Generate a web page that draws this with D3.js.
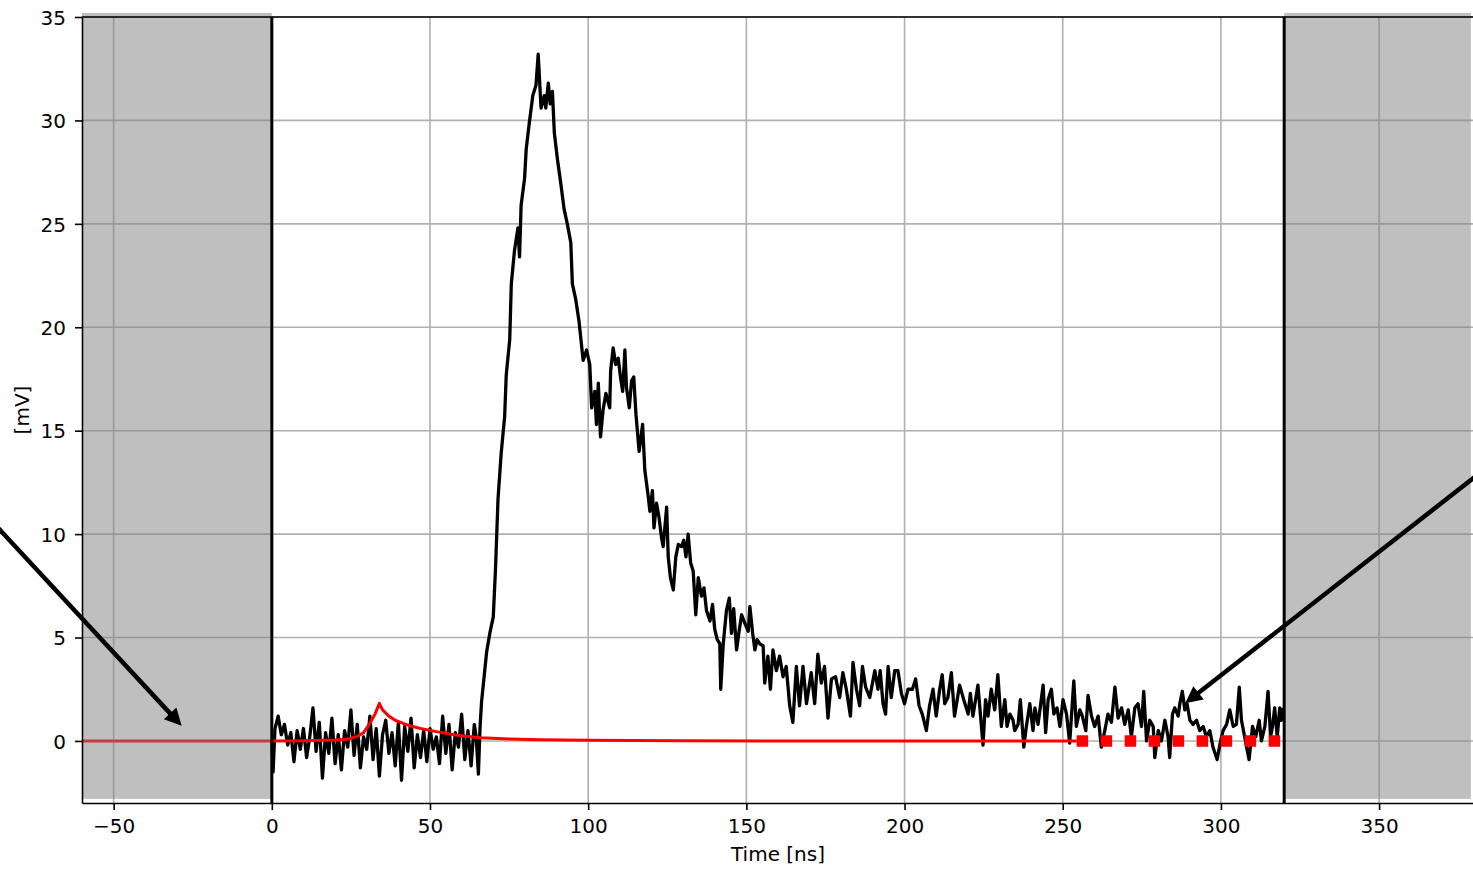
<!DOCTYPE html>
<html><head><meta charset="utf-8">
<script src="https://cdn.jsdelivr.net/npm/d3@7"></script>
<style>
body{margin:0;background:#fff;}
svg{display:block;}
text{font-family:"DejaVu Sans",sans-serif;}
</style>
</head><body>
<svg id="chart" width="1473" height="872"></svg>
<script>
// ---- data ----
const xTicks = [-50, 0, 50, 100, 150, 200, 250, 300, 350];
const yTicks = [0, 5, 10, 15, 20, 25, 30, 35];
const xLabel = "Time [ns]";
const yLabel = "[mV]";

// measured waveform (time in ns, amplitude in mV)
const waveT = [0,0.4,1,2,3,4,5,6,7,8,9,10,11,12,13,14,15,16,17,18,19,20,21,22,23,24,25,26,27,28,29,30,31,32,33,34,35,36,37,38,39,40,41,42,43,44,45,46,47,48,49,50,51,52,53,54,55,56,57,58,59,60,61,62,63,64,64.6,65.3,65.8,66.3,67.1,67.9,68.9,70,70.7,71.5,72.5,73.6,74.1,75.2,75.7,76.7,77.8,78.3,78.8,79.9,80.4,81.4,82.5,83.5,84.2,85.1,86.1,86.6,87.4,88.0,88.7,89.3,90.3,91.3,92.4,93.4,94.5,95.0,96.0,97.1,98.4,99.5,100.5,101.1,102.1,102.6,103.2,103.9,104.7,105.6,106.8,107.1,107.9,108.7,109.5,110.2,110.9,111.6,112.1,113.0,113.7,114.4,115.1,116.1,117.2,117.9,119.0,119.5,120.3,120.8,121.6,122.4,123.2,123.7,124.8,125.3,126.0,126.9,127.7,128.5,129.5,130.2,130.9,131.6,132.4,133.2,134.0,134.8,135.8,136.6,137.4,138.5,139.3,140.0,140.8,141.6,141.9,142.7,143.7,144.6,145.3,146.0,146.9,147.7,148.5,149.5,150.6,151.1,152.0,152.7,153.4,154.2,155.3,155.8,156.8,157.6,158.4,159.5,160.5,161.6,162.6,163.7,164.7,165.8,166.8,167.9,169.0,170.5,171.6,172.6,173.7,174.7,175.8,176.9,178.2,179.5,180.5,181.6,182.9,183.7,184.8,185.8,186.7,187.7,189.0,190.6,191.6,192.3,193.2,194.0,194.8,195.8,196.9,197.9,199.0,200.0,201.1,202.5,203.5,204.6,205.6,206.9,207.9,209.0,210.0,211.1,211.9,212.7,213.7,214.8,215.8,217.4,218.7,220.1,220.8,221.6,223.2,224.8,225.6,226.4,227.4,228.5,229.5,230.6,231.7,232.4,233.3,234.3,234.8,235.9,236.6,237.7,238.5,239.6,240.6,241.2,242.2,243.3,243.8,244.6,245.4,246.4,247.2,248.2,249.1,250.1,251.2,252.2,253.5,254.3,255.4,256.2,257.3,258.0,259.1,260.1,261.2,262.2,263.3,264.3,265.4,266.5,267.5,268.6,269.6,270.7,271.7,272.8,273.8,274.9,275.6,276.5,277.5,278.6,279.1,280.2,281.2,282.3,283.3,283.8,284.7,285.4,286.5,287.0,287.8,288.6,289.3,290.2,291.2,292.3,293.3,294.4,295.4,296.5,297.5,298.8,299.9,300.7,301.8,302.8,303.9,304.9,305.8,306.5,307.5,308.9,310.0,311.0,312.1,312.8,313.9,314.9,315.7,316.3,317.0,317.8,318.6,319.1,319.7];
const waveV = [0.0,-1.5,0.6,1.2,0.3,0.8,-0.2,0.4,-1.0,0.5,-0.4,0.6,-0.8,0.2,1.6,-0.5,0.9,-1.8,0.4,-0.6,1.1,-1.1,0.3,-1.4,0.5,-0.3,1.5,-0.7,0.8,-1.3,0.2,-0.4,1.2,-0.9,0.6,-1.7,0.3,1.0,-0.6,0.4,-1.2,0.9,-1.9,0.7,-0.5,1.1,-1.3,0.3,-0.8,0.5,-1.0,0.6,-0.4,0.2,-1.1,1.2,-0.6,0.8,-1.4,0.4,-0.3,1.3,-0.9,0.5,-1.2,0.8,0.2,-1.6,0.6,1.9,3.1,4.3,5.2,6.0,8.3,11.7,13.9,15.7,17.7,19.4,22.1,23.7,24.8,23.4,25.9,27.2,28.6,29.9,31.2,31.7,33.2,30.6,31.2,30.6,31.8,30.8,31.4,29.4,28.1,27.0,25.7,25.0,24.1,22.1,21.4,20.3,18.4,18.9,18.2,16.1,16.9,15.3,17.3,14.7,16.0,16.8,16.1,17.9,19.0,18.2,18.5,17.6,16.9,18.9,17.1,16.1,17.4,17.6,15.8,14.0,15.3,13.1,11.8,11.1,12.1,10.3,11.5,10.8,9.8,9.4,11.3,8.9,7.9,7.3,8.9,9.5,9.4,9.7,8.9,10.0,8.6,8.2,6.1,7.9,7.0,7.4,6.3,5.8,6.6,5.4,4.9,4.7,2.5,4.7,6.3,6.9,5.2,6.4,4.4,5.3,6.1,5.7,5.3,6.5,5.2,4.4,4.9,4.7,4.6,2.8,4.1,2.5,4.4,3.4,4.1,3.1,3.6,1.7,0.9,3.6,1.7,3.6,1.8,3.3,1.8,4.2,2.8,3.6,1.1,3.0,3.1,2.1,3.3,2.5,1.2,3.8,2.5,1.7,3.6,2.6,2.1,3.4,2.5,3.4,1.8,1.3,3.6,2.1,3.4,3.4,2.3,1.8,2.5,2.5,3.0,1.7,1.3,0.5,1.7,2.5,1.2,2.5,3.2,1.8,2.1,3.3,1.2,2.7,2.0,1.3,2.3,1.2,2.7,-0.2,2.0,1.2,2.5,1.5,3.2,0.7,2.0,0.7,1.3,1.0,0.5,0.8,2.0,-0.3,0.7,1.8,0.5,1.6,0.8,2.1,2.7,0.4,2.0,2.5,1.3,1.6,0.7,2.0,1.3,-0.1,2.9,0.7,1.5,1.2,0.5,2.2,1.2,0.7,1.2,-0.3,0.5,1.3,0.9,2.6,1.1,1.6,0.8,1.5,0.2,1.6,1.8,0.7,2.4,0.0,1.0,0.7,-0.8,0.5,0.0,1.0,0.2,-0.8,1.3,1.6,1.2,1.8,2.4,1.5,1.8,1.0,0.8,1.0,0.5,0.7,0.2,0.5,-0.3,-0.9,0.0,0.5,0.8,1.5,0.7,0.8,2.6,1.0,0.2,-0.9,0.7,0.2,1.0,0.0,0.7,2.4,0.2,0.7,1.6,0.2,1.6,1.0,1.6];

// fitted model (red)
const modelT = [-60,0,10,20,24,27,29,31,32.5,34,35,37,39,41.5,44,47,52,58,66,75,85,100,130,160,254.4];
const modelV = [0,0,0.01,0.04,0.08,0.22,0.4,0.85,1.25,1.82,1.5,1.2,1.0,0.85,0.72,0.6,0.45,0.29,0.16,0.1,0.06,0.03,0.01,0,0];
// dotted extension of the model
const modelDotT = [254.4, 320];
const modelDotV = [0, 0];

// excluded (shaded) windows and window limits
const spanX0 = [-60, 320];
const spanX1 = [0, 379];
const spanY = [-2.8, 35.2];
const windowLines = [0, 320];

// annotation arrows (data coords): tail -> tip
const arrowTailX = [-101.7, 404.0];
const arrowTailY = [12.8, 15.6];
const arrowTipX = [-28.5, 288.7];
const arrowTipY = [0.73, 1.82];

// ---- drawing ----
const svg = d3.select("#chart");
const x = d3.scaleLinear().domain([-60, 380]).range([82, 1474]);
const y = d3.scaleLinear().domain([-3, 35]).range([803, 17]);
const [L, R] = x.range();
const [B, T] = y.range();

// grid
const grid = svg.append("g");
grid.selectAll("line.v").data(xTicks).join("line")
  .attr("x1", d => x(d)).attr("x2", d => x(d)).attr("y1", T).attr("y2", B)
  .attr("stroke", "#b0b0b0").attr("stroke-width", 1.6);
grid.selectAll("line.h").data(yTicks).join("line")
  .attr("x1", L).attr("x2", R).attr("y1", d => y(d)).attr("y2", d => y(d))
  .attr("stroke", "#b0b0b0").attr("stroke-width", 1.6);

// waveform
const wave = waveT.map((t, i) => [t, waveV[i]]);
const line = d3.line().x(d => x(d[0])).y(d => y(d[1]));
svg.append("path").datum(wave).attr("d", line)
  .attr("fill", "none").attr("stroke", "#000").attr("stroke-width", 3.3)
  .attr("stroke-linejoin", "round");

// model
svg.append("path").datum(modelT.map((t, i) => [t, modelV[i]])).attr("d", line)
  .attr("fill", "none").attr("stroke", "#ff0000").attr("stroke-width", 3)
  .attr("stroke-linejoin", "round");
svg.append("path").datum(modelDotT.map((t, i) => [t, modelDotV[i]])).attr("d", line)
  .attr("fill", "none").attr("stroke", "#ff0000").attr("stroke-width", 11.5)
  .attr("stroke-dasharray", "11.5,12.5");

// shaded spans
svg.append("g").selectAll("rect").data(spanX0).join("rect")
  .attr("x", (d) => x(d))
  .attr("width", (d, i) => x(spanX1[i]) - x(d))
  .attr("y", y(spanY[1]))
  .attr("height", y(spanY[0]) - y(spanY[1]))
  .attr("fill", "#808080").attr("fill-opacity", 0.5);

// window lines
svg.append("g").selectAll("line").data(windowLines).join("line")
  .attr("x1", d => x(d)).attr("x2", d => x(d)).attr("y1", T).attr("y2", B)
  .attr("stroke", "#000").attr("stroke-width", 3);

// axes
const fmt = d => d < 0 ? "\u2212" + Math.abs(d) : String(d);
const gx = svg.append("g").attr("transform", `translate(0,${B})`)
  .call(d3.axisBottom(x).tickValues(xTicks).tickSize(7).tickSizeOuter(0).tickPadding(9).tickFormat(fmt));
const gy = svg.append("g").attr("transform", `translate(${L},0)`)
  .call(d3.axisLeft(y).tickValues(yTicks).tickSize(7).tickSizeOuter(0).tickPadding(9).tickFormat(fmt));
[gx, gy].forEach(g => {
  g.selectAll("text").attr("font-size", 20).attr("fill", "#000").attr("font-family", "DejaVu Sans, sans-serif");
  g.selectAll("line").attr("stroke", "#000").attr("stroke-width", 1.6);
  g.select(".domain").attr("stroke", "#000").attr("stroke-width", 1.6);
});
gy.selectAll("text").attr("dy", "0.36em");
// top spine
svg.append("line").attr("x1", L).attr("x2", R).attr("y1", T).attr("y2", T)
  .attr("stroke", "#000").attr("stroke-width", 1.6);

// axis labels
svg.append("text").attr("x", (L + R) / 2).attr("y", 861)
  .attr("text-anchor", "middle").attr("font-size", 20).text(xLabel);
svg.append("text").attr("transform", `translate(29,${(T + B) / 2}) rotate(-90)`)
  .attr("text-anchor", "middle").attr("font-size", 20).text(yLabel);

// arrows
const ag = svg.append("g");
arrowTailX.forEach((tx, i) => {
  const x0 = x(tx), y0 = y(arrowTailY[i]);
  const x1 = x(arrowTipX[i]), y1 = y(arrowTipY[i]);
  const ang = Math.atan2(y1 - y0, x1 - x0);
  const hl = 17, hw = 8.5;
  const bx = x1 - hl * Math.cos(ang), by = y1 - hl * Math.sin(ang);
  ag.append("line").attr("x1", x0).attr("y1", y0).attr("x2", bx + 2 * Math.cos(ang)).attr("y2", by + 2 * Math.sin(ang))
    .attr("stroke", "#000").attr("stroke-width", 4.5);
  const px = -Math.sin(ang), py = Math.cos(ang);
  ag.append("path")
    .attr("d", `M${x1},${y1}L${bx + hw * px},${by + hw * py}L${bx - hw * px},${by - hw * py}Z`)
    .attr("fill", "#000");
});
</script>
</body></html>
